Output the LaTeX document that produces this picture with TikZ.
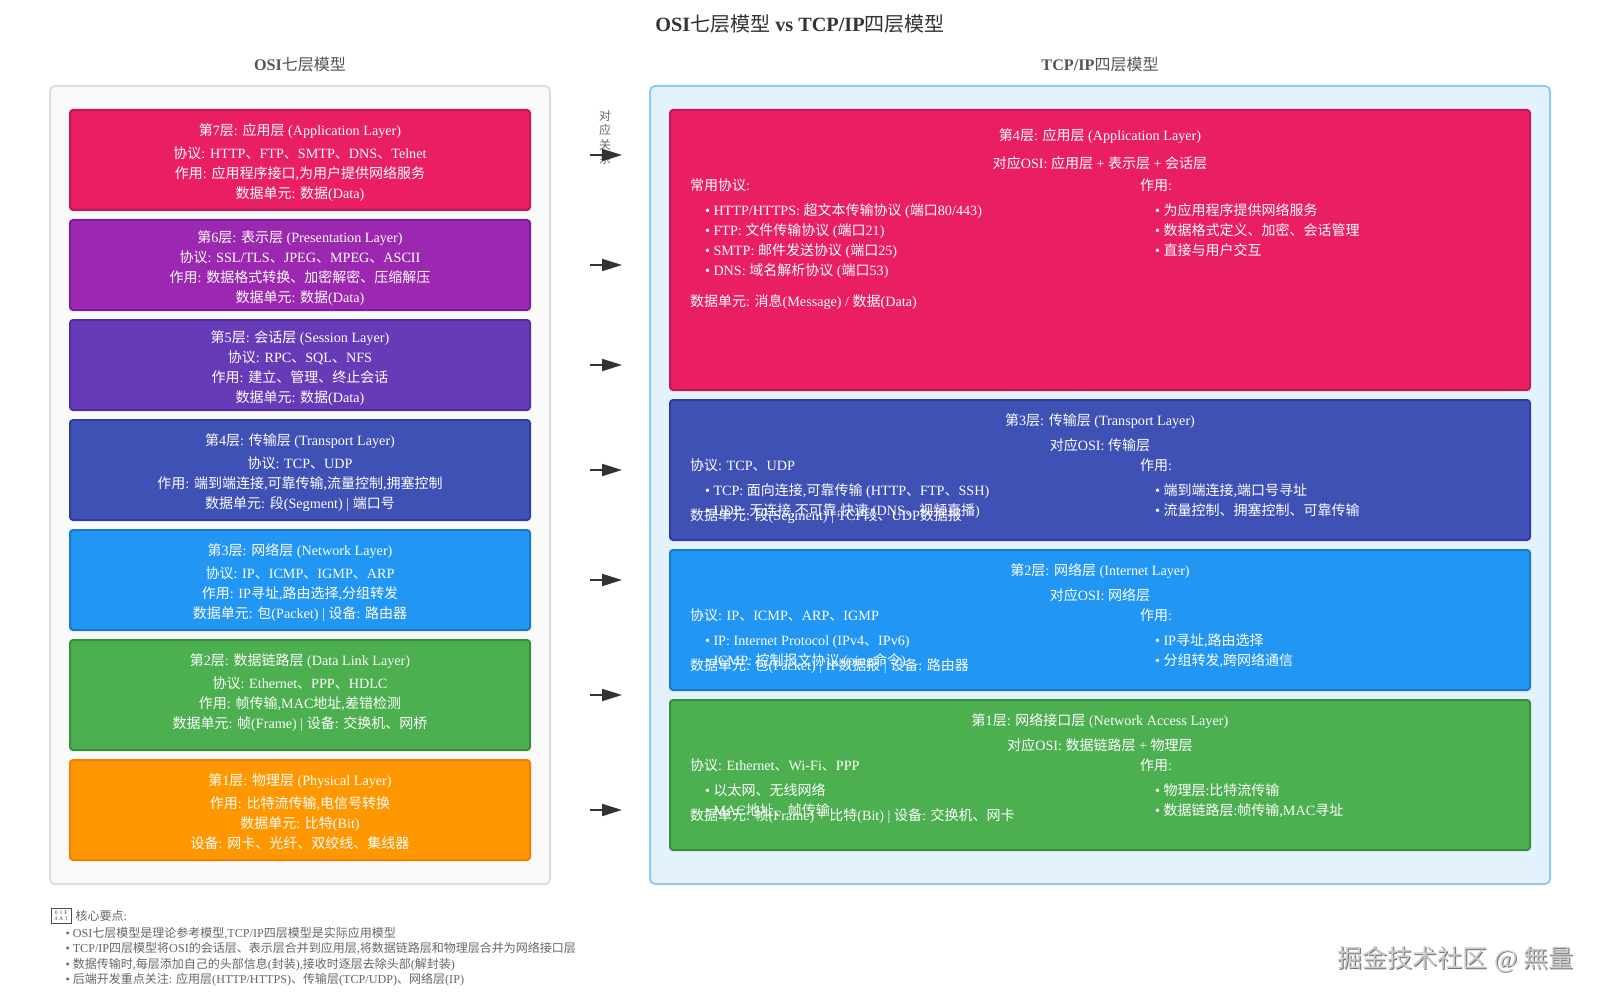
\documentclass[tikz,border=0pt]{standalone}
\usepackage{fontspec}
\usetikzlibrary{arrows.meta}
\setmainfont[Scale=1.012]{Liberation Serif}
\newfontfamily\cjkf{Noto Sans CJK SC}
% automatic switch between the Latin and the CJK font
\chardef\cjkclass=7
\newcount\cc
\cc="2E80 \loop\ifnum\cc<"A000 \XeTeXcharclass\cc=\cjkclass \advance\cc 1 \repeat
\cc="FF00 \loop\ifnum\cc<"FFF0 \XeTeXcharclass\cc=\cjkclass \advance\cc 1 \repeat
\newcommand{\cjkswitch}{\cjkf}
\newcommand{\latinswitch}{\rmfamily}
\newcommand{\headswitches}{\bfseries\renewcommand{\cjkswitch}{\cjkf\mdseries}\renewcommand{\latinswitch}{\rmfamily\bfseries}}
\XeTeXinterchartokenstate=1
\XeTeXinterchartoks 0 \cjkclass={\cjkswitch}
\XeTeXinterchartoks 4095 \cjkclass={\cjkswitch}
\XeTeXinterchartoks \cjkclass 0={\latinswitch}
\XeTeXinterchartoks \cjkclass 4095={\latinswitch}
\XeTeXinterchartoks 4095 0={\latinswitch}
\definecolor{c7}{HTML}{E91E63}\definecolor{b7}{HTML}{C2185B}
\definecolor{c6}{HTML}{9C27B0}\definecolor{b6}{HTML}{7B1FA2}
\definecolor{c5}{HTML}{673AB7}\definecolor{b5}{HTML}{512DA8}
\definecolor{c4}{HTML}{3F51B5}\definecolor{b4}{HTML}{303F9F}
\definecolor{c3}{HTML}{2196F3}\definecolor{b3}{HTML}{1976D2}
\definecolor{c2}{HTML}{4CAF50}\definecolor{b2}{HTML}{388E3C}
\definecolor{c1}{HTML}{FF9800}\definecolor{b1}{HTML}{F57C00}
\tikzset{
  boxbase/.style={rectangle,inner sep=0pt,outer sep=0pt,line width=2pt},
  layerbox/.style={boxbase,rounded corners=3pt},
  panelbox/.style={boxbase,rounded corners=5pt},
  txt/.style={inner sep=0pt,outer sep=0pt,font=\fontsize{14}{16}\selectfont,text=white},
  ctxt/.style={txt,anchor=base},
  ltxt/.style={txt,anchor=base west},
  note/.style={inner sep=0pt,outer sep=0pt,font=\fontsize{12}{14}\selectfont,text=black!60,anchor=base west},
  head/.style={inner sep=0pt,outer sep=0pt,font=\headswitches\fontsize{16}{18}\selectfont,text=black!67,anchor=base},
  flow/.style={draw=black!80,line width=2pt,-{Triangle[length=20pt,width=12pt]}},
}
\newcount\tc
\newcommand{\lay}[7]{\node[layerbox,draw=#7,fill=#6,minimum width={(#4-#2-2)*1pt},minimum height={(#5-#3-2)*1pt}] (#1) at ({(#2+#4)/2},{(#3+#5)/2}) {};}
\newcommand{\ct}[3]{\global\advance\tc 1 \node[ctxt] (t\the\tc) at (#1,{#2+5}) {#3};}
\newcommand{\lt}[3]{\global\advance\tc 1 \node[ltxt] (t\the\tc) at (#1,{#2+5}) {#3};}
\newcommand{\nt}[3]{\global\advance\tc 1 \node[note] (t\the\tc) at (#1,{#2+4.3}) {#3};}
\newcommand{\flowarrow}[2]{\coordinate (#1s) at (590,#2); \coordinate (#1e) at (622,#2); \draw[flow] (#1s) -- (#1e);}
\begin{document}
\begin{tikzpicture}[x=1pt,y=-1pt]
\useasboundingbox (0,0) rectangle (1600,1000);
\fill[white] (0,0) rectangle (1600,1000);
% titles
\node[inner sep=0pt,font=\headswitches\fontsize{20}{22}\selectfont,text=black!80,anchor=base] (title) at (800,31.5) {OSI七层模型 vs TCP/IP四层模型};
\node[head] (hosi) at (300,71) {OSI七层模型};
\node[head] (htcp) at (1100,71) {TCP/IP四层模型};
% panels
\node[panelbox,draw=black!13,fill=black!2,minimum width=500pt,minimum height=798pt] (posi) at (300,485) {};
\node[panelbox,draw={rgb,255:red,144;green,202;blue,249},fill={rgb,255:red,227;green,242;blue,253},minimum width=900pt,minimum height=798pt] (ptcp) at (1100,485) {};
% OSI layers
\lay{l7}{69}{109}{531}{211}{c7}{b7}
\lay{l6}{69}{219}{531}{311}{c6}{b6}
\lay{l5}{69}{319}{531}{411}{c5}{b5}
\lay{l4}{69}{419}{531}{521}{c4}{b4}
\lay{l3}{69}{529}{531}{631}{c3}{b3}
\lay{l2}{69}{639}{531}{751}{c2}{b2}
\lay{l1}{69}{759}{531}{861}{c1}{b1}
\ct{300}{131}{第7层: 应用层 (Application Layer)}
\ct{300}{153.5}{协议: HTTP、FTP、SMTP、DNS、Telnet}
\ct{300}{174}{作用: 应用程序接口,为用户提供网络服务}
\ct{300}{194}{数据单元: 数据(Data)}
\ct{300}{238}{第6层: 表示层 (Presentation Layer)}
\ct{300}{257}{协议: SSL/TLS、JPEG、MPEG、ASCII}
\ct{300}{277.5}{作用: 数据格式转换、加密解密、压缩解压}
\ct{300}{297}{数据单元: 数据(Data)}
\ct{300}{337}{第5层: 会话层 (Session Layer)}
\ct{300}{357}{协议: RPC、SQL、NFS}
\ct{300}{377}{作用: 建立、管理、终止会话}
\ct{300}{397}{数据单元: 数据(Data)}
\ct{300}{440}{第4层: 传输层 (Transport Layer)}
\ct{300}{463}{协议: TCP、UDP}
\ct{300}{483}{作用: 端到端连接,可靠传输,流量控制,拥塞控制}
\ct{300}{503}{数据单元: 段(Segment) | 端口号}
\ct{300}{550}{第3层: 网络层 (Network Layer)}
\ct{300}{573}{协议: IP、ICMP、IGMP、ARP}
\ct{300}{593}{作用: IP寻址,路由选择,分组转发}
\ct{300}{613}{数据单元: 包(Packet) | 设备: 路由器}
\ct{300}{660}{第2层: 数据链路层 (Data Link Layer)}
\ct{300}{683}{协议: Ethernet、PPP、HDLC}
\ct{300}{703}{作用: 帧传输,MAC地址,差错检测}
\ct{300}{723}{数据单元: 帧(Frame) | 设备: 交换机、网桥}
\ct{300}{780}{第1层: 物理层 (Physical Layer)}
\ct{300}{803}{作用: 比特流传输,电信号转换}
\ct{300}{823}{数据单元: 比特(Bit)}
\ct{300}{843}{设备: 网卡、光纤、双绞线、集线器}
% TCP/IP layers
\lay{r4}{669}{109}{1531}{391}{c7}{b7}
\lay{r3}{669}{399}{1531}{541}{c4}{b4}
\lay{r2}{669}{549}{1531}{691}{c3}{b3}
\lay{r1}{669}{699}{1531}{851}{c2}{b2}
% layer 4
\ct{1100}{136}{第4层: 应用层 (Application Layer)}
\ct{1100}{164}{对应OSI: 应用层 + 表示层 + 会话层}
\lt{690}{186}{常用协议:}
\lt{705}{211}{• HTTP/HTTPS: 超文本传输协议 (端口80/443)}
\lt{705}{231}{• FTP: 文件传输协议 (端口21)}
\lt{705}{250.5}{• SMTP: 邮件发送协议 (端口25)}
\lt{705}{271}{• DNS: 域名解析协议 (端口53)}
\lt{690}{301}{数据单元: 消息(Message) / 数据(Data)}
\lt{1140}{186}{作用:}
\lt{1155}{211}{• 为应用程序提供网络服务}
\lt{1155}{231}{• 数据格式定义、加密、会话管理}
\lt{1155}{250.5}{• 直接与用户交互}
% layer 3
\ct{1100}{420}{第3层: 传输层 (Transport Layer)}
\ct{1100}{445}{对应OSI: 传输层}
\lt{690}{465}{协议: TCP、UDP}
\lt{705}{490}{• TCP: 面向连接,可靠传输 (HTTP、FTP、SSH)}
\lt{705}{510}{• UDP: 无连接,不可靠,快速 (DNS、视频直播)}
\lt{690}{515}{数据单元: 段(Segment) | TCP段、UDP数据报}
\lt{1140}{465}{作用:}
\lt{1155}{490}{• 端到端连接,端口号寻址}
\lt{1155}{510}{• 流量控制、拥塞控制、可靠传输}
% layer 2
\ct{1100}{570}{第2层: 网络层 (Internet Layer)}
\ct{1100}{595}{对应OSI: 网络层}
\lt{690}{615}{协议: IP、ICMP、ARP、IGMP}
\lt{705}{640}{• IP: Internet Protocol (IPv4、IPv6)}
\lt{705}{660}{• ICMP: 控制报文协议 (ping命令)}
\lt{690}{665}{数据单元: 包(Packet) | IP数据报 | 设备: 路由器}
\lt{1140}{615}{作用:}
\lt{1155}{640}{• IP寻址,路由选择}
\lt{1155}{660}{• 分组转发,跨网络通信}
% layer 1
\ct{1100}{720}{第1层: 网络接口层 (Network Access Layer)}
\ct{1100}{745.5}{对应OSI: 数据链路层 + 物理层}
\lt{690}{765}{协议: Ethernet、Wi-Fi、PPP}
\lt{705}{790}{• 以太网、无线网络}
\lt{705}{810}{• MAC地址、帧传输}
\lt{690}{815}{数据单元: 帧(Frame) + 比特(Bit) | 设备: 交换机、网卡}
\lt{1140}{765}{作用:}
\lt{1155}{790}{• 物理层:比特流传输}
\lt{1155}{810}{• 数据链路层:帧传输,MAC寻址}
% correspondence label and arrows
\node[inner sep=0pt,font=\fontsize{12}{14.5}\selectfont,text=black!60,align=center,anchor=north] (rel) at (605,110) {对\\应\\关\\系};
\flowarrow{a7}{155}
\flowarrow{a6}{265}
\flowarrow{a5}{365}
\flowarrow{a4}{470}
\flowarrow{a3}{580}
\flowarrow{a2}{695}
\flowarrow{a1}{810}
% notes
\node[draw=black!70,line width=.8pt,inner sep=0pt,minimum width=20pt,minimum height=15pt,align=center,font=\sffamily\fontsize{5.5}{6.5}\selectfont,text=black!75] (tofu) at (61.2,915.5) {0\hspace{2pt}1\hspace{2pt}F\\4\hspace{2pt}A\hspace{2pt}1};
\nt{75.5}{916}{核心要点:}
\nt{65.5}{933.5}{• OSI七层模型是理论参考模型,TCP/IP四层模型是实际应用模型}
\nt{65.5}{948.5}{• TCP/IP四层模型将OSI的会话层、表示层合并到应用层,将数据链路层和物理层合并为网络接口层}
\nt{65.5}{964}{• 数据传输时,每层添加自己的头部信息(封装),接收时逐层去除头部(解封装)}
\nt{65.5}{979}{• 后端开发重点关注: 应用层(HTTP/HTTPS)、传输层(TCP/UDP)、网络层(IP)}
% watermark
\node[inner sep=0pt,font=\cjkf\fontsize{25}{27}\selectfont,text=black!55,anchor=base east] (wms) at (1575,968) {掘金技术社区 @ 無量};
\node[inner sep=0pt,font=\cjkf\fontsize{25}{27}\selectfont,text=black!20,anchor=base east] (wm) at (1574,967) {掘金技术社区 @ 無量};
\end{tikzpicture}
\end{document}
